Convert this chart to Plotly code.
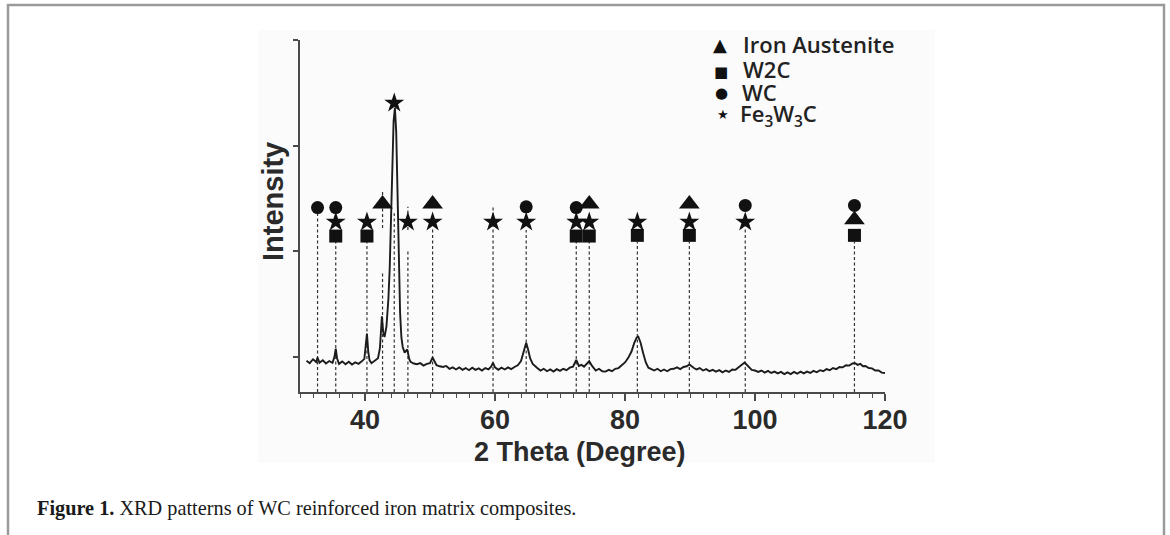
import plotly.graph_objects as go

# ---------------- data ----------------
two_theta = [
    31.0, 31.5, 32.0, 32.5, 32.7, 33.0, 33.5, 34.0, 34.5, 35.0, 35.3, 35.5, 35.7, 36.0, 36.5,
    37.0, 37.5, 38.0, 38.5, 39.0, 39.5, 39.9, 40.1, 40.3, 40.5, 40.7, 41.0, 41.5, 42.0, 42.3,
    42.6, 42.8, 43.0, 43.3, 43.6, 43.8, 44.0, 44.2, 44.4, 44.6, 44.8, 45.0, 45.2, 45.4, 45.6,
    45.8, 46.1, 46.5, 46.8, 47.0, 47.5, 48.0, 48.5, 49.0, 49.5, 50.0, 50.4, 50.8, 51.0, 51.5,
    52.0, 52.5, 53.0, 53.5, 54.0, 54.5, 55.0, 55.5, 56.0, 56.5, 57.0, 57.5, 58.0, 58.5, 59.0,
    59.4, 59.7, 60.0, 60.5, 61.0, 61.5, 62.0, 62.5, 63.0, 63.5, 64.0, 64.4, 64.8, 65.1, 65.4,
    65.8, 66.2, 66.5, 67.0, 67.5, 68.0, 68.5, 69.0, 69.5, 70.0, 70.5, 71.0, 71.5, 72.0, 72.5,
    72.9, 73.3, 73.7, 74.1, 74.5, 74.9, 75.3, 75.5, 76.0, 76.5, 77.0, 77.5, 78.0, 78.5, 79.0,
    79.5, 80.0, 80.5, 81.0, 81.4, 81.8, 82.05, 82.4, 82.8, 83.2, 83.6, 84.0, 84.5, 85.0, 85.5,
    86.0, 86.5, 87.0, 87.5, 88.0, 88.5, 89.0, 89.5, 89.9, 90.3, 90.6, 91.0, 91.5, 92.0, 92.5,
    93.0, 93.5, 94.0, 94.5, 95.0, 95.5, 96.0, 96.5, 97.0, 97.5, 98.0, 98.4, 98.8, 99.2, 99.5,
    100.0, 100.5, 101.0, 101.5, 102.0, 102.5, 103.0, 103.5, 104.0, 104.5, 105.0, 105.5, 106.0, 106.5, 107.0,
    107.5, 108.0, 108.5, 109.0, 109.5, 110.0, 110.5, 111.0, 111.5, 112.0, 112.5, 113.0, 113.5, 114.0, 114.5,
    115.0, 115.4, 115.8, 116.2, 116.6, 117.0, 117.5, 118.0, 118.5, 119.0, 119.5, 120.0,
]
intensity = [
    8.9, 8.2, 9.3, 8.5, 9.8, 8.3, 9.0, 8.1, 8.8, 8.3, 10.0, 12.3, 9.6, 8.0, 8.7,
    7.9, 8.6, 7.8, 8.4, 8.0, 8.7, 9.4, 13.0, 16.6, 11.5, 9.0, 8.2, 9.0, 9.6, 12.5,
    21.5, 17.0, 15.6, 18.6, 26.5, 35.0, 50.0, 66.0, 77.0, 80.7, 74.0, 57.0, 38.0, 22.4, 15.5,
    12.8, 11.2, 12.1, 9.4, 8.6, 8.1, 7.9, 8.2, 7.5, 8.0, 8.2, 9.8, 8.4, 7.6, 7.3,
    7.1, 7.4, 6.6, 7.0, 6.4, 7.0, 6.3, 6.8, 6.2, 6.9, 6.3, 6.7, 6.1, 6.8, 6.4,
    7.2, 8.3, 7.0, 6.3, 6.9, 6.4, 7.0, 6.5, 7.1, 7.6, 8.8, 11.3, 14.0, 12.0, 9.6,
    8.0, 7.2, 6.8, 6.1, 6.6, 5.9, 6.4, 5.8, 6.5, 6.0, 6.6, 6.2, 6.9, 7.2, 9.1,
    7.4, 7.7, 7.2, 8.0, 8.8, 7.5, 6.6, 6.1, 6.6, 5.9, 5.8, 6.3, 5.9, 6.6, 6.8,
    7.6, 8.4, 9.7, 11.5, 13.8, 15.5, 15.7, 14.0, 11.0, 8.4, 6.9, 6.5, 6.1, 6.6, 5.9,
    6.4, 5.9, 6.5, 6.6, 7.0, 6.5, 7.1, 7.3, 7.8, 7.1, 6.8, 6.4, 6.8, 6.1, 6.5,
    5.9, 6.3, 5.8, 6.2, 5.6, 6.1, 5.7, 6.4, 6.3, 7.0, 7.6, 8.4, 7.6, 6.7, 6.3,
    6.1, 5.7, 6.1, 5.5, 6.0, 5.4, 5.8, 5.3, 5.7, 5.1, 5.6, 5.1, 5.7, 5.2, 5.8,
    5.3, 5.8, 5.4, 6.0, 5.6, 6.2, 5.9, 6.5, 6.2, 6.8, 6.5, 7.1, 7.0, 7.6, 7.5,
    8.1, 8.2, 7.7, 8.0, 7.3, 7.4, 6.8, 6.7, 6.1, 6.1, 5.5, 5.4,
]

# reference peak lines (position, lower end, upper end)
ref_line_pos = [32.7, 35.5, 40.3, 42.7, 42.7, 44.5, 46.6, 46.6, 50.4, 59.7,
                64.8, 72.5, 74.5, 81.9, 89.9, 98.5, 115.3]
ref_line_lo = [0, 0, 0, 0, 46.6, 0, 0, 46.0, 0, 0,
               0, 0, 0, 0, 0, 0, 0]
ref_line_hi = [51.2, 42.7, 42.7, 34.2, 57.4, 50.8, 40.3, 52.6, 46.6, 52.6,
               46.0, 42.7, 42.7, 42.7, 42.7, 47.0, 42.7]

# phase identification marks
austenite_pos = [42.7, 50.4, 74.5, 89.9, 115.3]
austenite_lvl = [53.4, 53.4, 53.4, 53.4, 48.9]
w2c_pos = [35.5, 40.3, 72.5, 74.5, 81.9, 89.9, 115.3]
w2c_lvl = [44.3, 44.3, 44.3, 44.3, 44.5, 44.5, 44.5]
wc_pos = [32.7, 35.5, 64.8, 72.5, 98.5, 115.3]
wc_lvl = [52.4, 52.4, 52.6, 52.4, 53.0, 53.0]
fe3w3c_pos = [35.5, 40.3, 44.5, 46.6, 50.4, 59.7, 64.8, 72.5, 74.5, 81.9, 89.9, 98.5]
fe3w3c_lvl = [48.3, 48.3, 82.1, 48.3, 48.3, 48.3, 48.3, 48.3, 48.3, 48.3, 48.3, 48.3]

x_ticks = [40, 60, 80, 100, 120]
y_ticks = [10, 40, 70, 100]

# ---------------- figure ----------------
W, H = 1170, 535
PL, PR, PT, PB = 300, 885, 40, 392          # plot area in page pixels
L, T = PL, PT
R, B = W - PR, H - PB
PW, PH = W - L - R, H - T - B


def px(x):
    return (x - L) / PW


def py(y):
    return (H - B - y) / PH


fig = go.Figure()

# dashed reference lines
lx, ly = [], []
for p, lo, hi in zip(ref_line_pos, ref_line_lo, ref_line_hi):
    lx += [p, p, None]
    ly += [lo, hi, None]
fig.add_trace(go.Scatter(x=lx, y=ly, mode="lines", hoverinfo="skip",
                         line=dict(color="#333333", width=1.2, dash="3px,2.5px"),
                         showlegend=False))

# XRD pattern
fig.add_trace(go.Scatter(x=two_theta, y=intensity, mode="lines",
                         line=dict(color="#1c1c1c", width=1.9),
                         showlegend=False))

mk = dict(color="#111111", line=dict(width=0))
fig.add_trace(go.Scatter(x=austenite_pos, y=austenite_lvl, mode="markers", name="Iron Austenite",
                         marker=dict(symbol="triangle-up", size=18, **mk), showlegend=False))
fig.add_trace(go.Scatter(x=w2c_pos, y=w2c_lvl, mode="markers", name="W2C",
                         marker=dict(symbol="square", size=13, **mk), showlegend=False))
fig.add_trace(go.Scatter(x=wc_pos, y=wc_lvl, mode="markers", name="WC",
                         marker=dict(symbol="circle", size=13, **mk), showlegend=False))
fig.add_trace(go.Scatter(x=fe3w3c_pos, y=fe3w3c_lvl, mode="markers", name="Fe3W3C",
                         marker=dict(symbol="star", size=15, **mk), showlegend=False))

axis_col = "#4a4a4a"
fig.update_xaxes(range=[30, 120], tickvals=x_ticks, ticks="outside", ticklen=7, tickwidth=1.6,
                 tickcolor=axis_col, showline=True, linecolor=axis_col, linewidth=2,
                 showgrid=False, zeroline=False, ticklabelstandoff=-4,
                 tickfont=dict(family="Liberation Sans", size=27, color="#2a2a2a", weight="bold"),
                 minor=dict(dtick=2, tick0=0, ticks="outside", ticklen=4, tickwidth=1,
                            tickcolor=axis_col, showgrid=False))
fig.update_yaxes(range=[0, 100], tickvals=y_ticks, ticks="outside", ticklen=5, tickwidth=1.6,
                 tickcolor=axis_col, showline=True, linecolor=axis_col, linewidth=2,
                 showgrid=False, zeroline=False, showticklabels=False)

annos = []
# axis titles
annos.append(dict(text="2 Theta (Degree)", x=px(580), y=py(452), xref="paper", yref="paper",
                  showarrow=False, xanchor="center", yanchor="middle",
                  font=dict(family="Liberation Sans", size=27, color="#2a2a2a", weight="bold")))
annos.append(dict(text="Intensity", x=px(273), y=py(202), xref="paper", yref="paper",
                  showarrow=False, xanchor="center", yanchor="middle", textangle=-90,
                  font=dict(family="Liberation Sans", size=29, color="#2a2a2a", weight="bold")))

# legend (symbols + labels)
leg_font = dict(family="Open Sans", size=22, color="#222222", weight=600)
legend_rows = [
    ("\u25B2", 18, 720, 44, "Iron Austenite", 741, 44),
    ("\u25A0", 15, 721, 72, "W2C", 741, 69),
    ("\u25CF", 15, 721, 93, "WC", 740, 92),
    ("\u2605", 13, 723, 114, "Fe<sub>3</sub>W<sub>3</sub>C", 738, 115),
]
for sym, ssz, sx, sy, lab, tx, ty in legend_rows:
    annos.append(dict(text=sym, x=px(sx), y=py(sy), xref="paper", yref="paper", showarrow=False,
                      xanchor="center", yanchor="middle",
                      font=dict(family="DejaVu Sans", size=ssz, color="#111111")))
    annos.append(dict(text=lab, x=px(tx), y=py(ty), xref="paper", yref="paper", showarrow=False,
                      xanchor="left", yanchor="middle", font=leg_font))

# caption
annos.append(dict(text="<b>Figure 1.</b> XRD patterns of WC reinforced iron matrix composites.",
                  x=px(35), y=py(508), xref="paper", yref="paper", showarrow=False,
                  xanchor="left", yanchor="middle",
                  font=dict(family="Liberation Serif", size=20.3, color="#1a1a1a")))

shapes = [
    # faint image background
    dict(type="rect", xref="paper", yref="paper", x0=px(258), x1=px(935), y0=py(463), y1=py(30),
         fillcolor="#fbfbfb", line=dict(width=0), layer="below"),
    # open page frame
    dict(type="path", xref="paper", yref="paper",
         path=f"M {px(8)},{py(560)} L {px(8)},{py(5)} L {px(1164)},{py(5)} L {px(1164)},{py(560)}",
         line=dict(color="#9a9a9a", width=2.5)),
]

fig.update_layout(width=W, height=H, autosize=False,
                  margin=dict(l=L, r=R, t=T, b=B, pad=0),
                  paper_bgcolor="white", plot_bgcolor="rgba(0,0,0,0)",
                  annotations=annos, shapes=shapes, showlegend=False)

# remove the default page margin so the figure fills the 1170x535 window exactly
fig.write_html("out.html", config={"displayModeBar": False},
               post_script="document.body.style.margin='0';document.body.style.overflow='hidden';")
